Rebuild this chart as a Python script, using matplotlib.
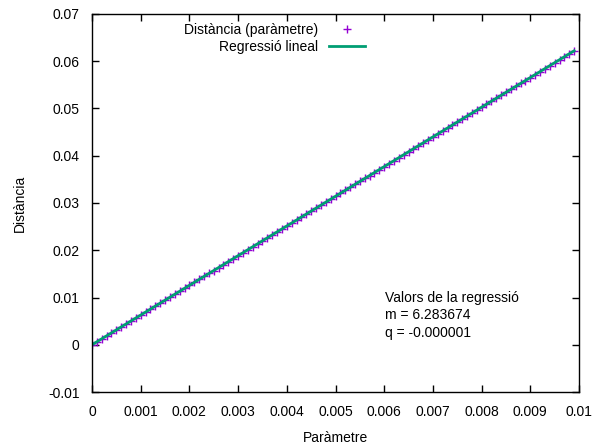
import matplotlib
matplotlib.use("Agg")
import matplotlib.pyplot as plt

plt.rcParams['font.family'] = ['Liberation Sans', 'DejaVu Sans']

parametre = [0.0000, 0.0001, 0.0002, 0.0003, 0.0004, 0.0005, 0.0006, 0.0007, 0.0008, 0.0009,
             0.0010, 0.0011, 0.0012, 0.0013, 0.0014, 0.0015, 0.0016, 0.0017, 0.0018, 0.0019,
             0.0020, 0.0021, 0.0022, 0.0023, 0.0024, 0.0025, 0.0026, 0.0027, 0.0028, 0.0029,
             0.0030, 0.0031, 0.0032, 0.0033, 0.0034, 0.0035, 0.0036, 0.0037, 0.0038, 0.0039,
             0.0040, 0.0041, 0.0042, 0.0043, 0.0044, 0.0045, 0.0046, 0.0047, 0.0048, 0.0049,
             0.0050, 0.0051, 0.0052, 0.0053, 0.0054, 0.0055, 0.0056, 0.0057, 0.0058, 0.0059,
             0.0060, 0.0061, 0.0062, 0.0063, 0.0064, 0.0065, 0.0066, 0.0067, 0.0068, 0.0069,
             0.0070, 0.0071, 0.0072, 0.0073, 0.0074, 0.0075, 0.0076, 0.0077, 0.0078, 0.0079,
             0.0080, 0.0081, 0.0082, 0.0083, 0.0084, 0.0085, 0.0086, 0.0087, 0.0088, 0.0089,
             0.0090, 0.0091, 0.0092, 0.0093, 0.0094, 0.0095, 0.0096, 0.0097, 0.0098, 0.0099]

distancia = [0.000000, 0.000628, 0.001257, 0.001885, 0.002513, 0.003142, 0.003770, 0.004398, 0.005027, 0.005655,
             0.006283, 0.006912, 0.007540, 0.008168, 0.008796, 0.009425, 0.010053, 0.010681, 0.011310, 0.011938,
             0.012566, 0.013195, 0.013823, 0.014451, 0.015080, 0.015708, 0.016336, 0.016965, 0.017593, 0.018221,
             0.018850, 0.019478, 0.020106, 0.020735, 0.021363, 0.021991, 0.022619, 0.023248, 0.023876, 0.024504,
             0.025133, 0.025761, 0.026389, 0.027018, 0.027646, 0.028274, 0.028903, 0.029531, 0.030159, 0.030788,
             0.031416, 0.032044, 0.032673, 0.033301, 0.033929, 0.034558, 0.035186, 0.035814, 0.036442, 0.037071,
             0.037699, 0.038327, 0.038956, 0.039584, 0.040212, 0.040841, 0.041469, 0.042097, 0.042726, 0.043354,
             0.043982, 0.044611, 0.045239, 0.045867, 0.046496, 0.047124, 0.047752, 0.048381, 0.049009, 0.049637,
             0.050265, 0.050894, 0.051522, 0.052150, 0.052779, 0.053407, 0.054035, 0.054664, 0.055292, 0.055920,
             0.056549, 0.057177, 0.057805, 0.058434, 0.059062, 0.059690, 0.060319, 0.060947, 0.061575, 0.062204]

m = 6.283674
q = -0.000001

x_ticks = [0, 0.001, 0.002, 0.003, 0.004, 0.005, 0.006, 0.007, 0.008, 0.009, 0.01]
x_labels = ["0", "0.001", "0.002", "0.003", "0.004", "0.005", "0.006", "0.007", "0.008", "0.009", "0.01"]
y_ticks = [-0.01, 0, 0.01, 0.02, 0.03, 0.04, 0.05, 0.06, 0.07]
y_labels = ["-0.01", "0", "0.01", "0.02", "0.03", "0.04", "0.05", "0.06", "0.07"]

fig = plt.figure(figsize=(5.92, 4.48), dpi=100)
ax = fig.add_axes([92/592, 1-392/448, (579-92)/592, (392-14)/448])

ax.plot(parametre, distancia, linestyle='none', marker='+', color='#9400D3',
        markersize=6, markeredgewidth=1.0, label='Distància (paràmetre)')
line_x = [0.0, 0.0099]
ax.plot(line_x, [m*v + q for v in line_x], color='#009E73', linewidth=2.0,
        label='Regressió lineal')

ax.set_xlim(0, 0.01)
ax.set_ylim(-0.01, 0.07)
ax.set_xticks(x_ticks)
ax.set_xticklabels(x_labels)
ax.set_yticks(y_ticks)
ax.set_yticklabels(y_labels)
ax.tick_params(direction='in', top=True, right=True, length=5, width=1, labelsize=10)
ax.tick_params(axis='x', pad=9)
ax.tick_params(axis='y', pad=9)
for s in ax.spines.values():
    s.set_linewidth(1)
ax.set_xlabel('Paràmetre', fontsize=10, labelpad=9)
ax.set_ylabel('Distància', fontsize=10, labelpad=15)

leg = ax.legend(loc='upper left', bbox_to_anchor=(0.17, 1.0), markerfirst=False,
                frameon=False, fontsize=10, handlelength=2.6, handletextpad=0.8,
                labelspacing=0.2, borderaxespad=0.25)
for t in leg.get_texts():
    t.set_ha('right')

ax.text(0.00602, 0.01145, 'Valors de la regressió\nm = 6.283674\nq = -0.000001',
        fontsize=10, va='top', ha='left', linespacing=1.35)

fig.savefig('out.png', dpi=100)
